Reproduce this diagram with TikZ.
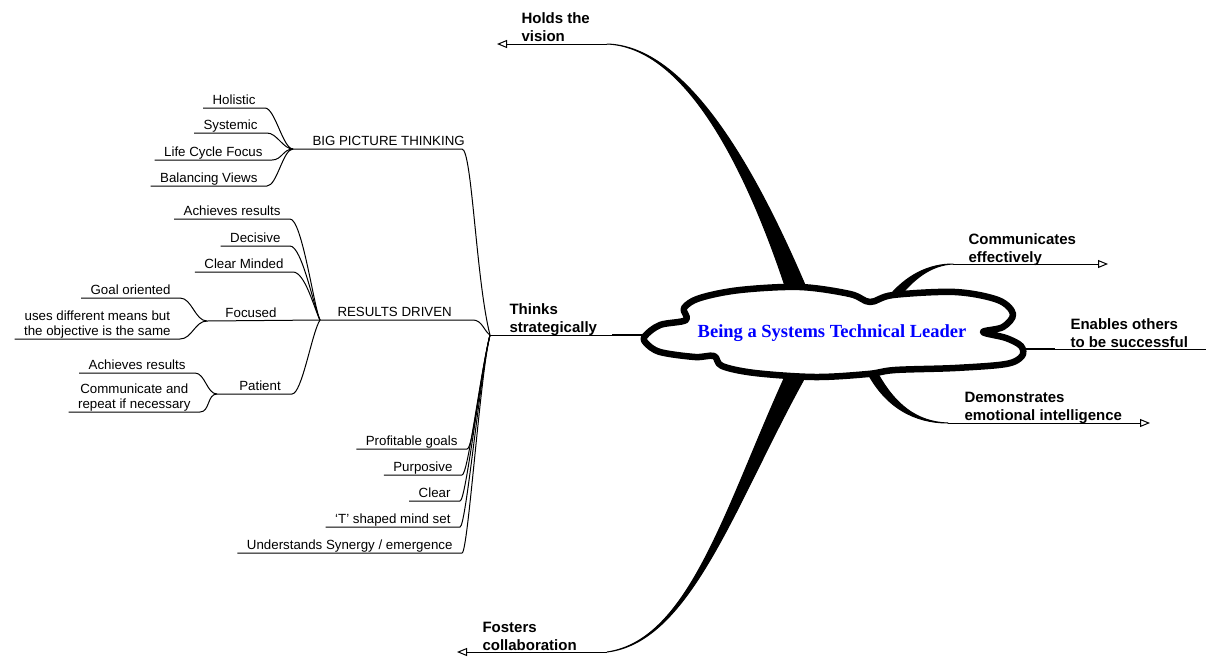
\documentclass[tikz,border=0pt]{standalone}
\usepackage{fontspec}
\setmainfont{Liberation Sans}
\newfontfamily\serifbold{Liberation Serif}
\usetikzlibrary{arrows.meta}
\definecolor{leaderblue}{RGB}{0,0,255}
\begin{document}
\begin{tikzpicture}[x=1pt,y=-1pt,line width=1pt,
  leaf/.style={font=\fontsize{13.3}{15}\selectfont, inner xsep=9pt, inner ysep=3pt, text depth=0pt, anchor=south east},
  leafc/.style={leaf, anchor=south, inner xsep=0pt},
  topic/.style={font=\bfseries\fontsize{15}{18}\selectfont, align=left, anchor=north west, inner sep=0pt},
  taper/.style={fill=black, draw=black, line width=1pt, line join=round},
  link/.style={line width=1pt},
  tip/.style={-{Triangle[open,length=10pt,width=8pt]}, line width=1pt},
  cloudline/.style={draw=black, fill=white, line width=6.5pt, line join=round},
]
\useasboundingbox (0,0) rectangle (1206,659);

% junction points
\coordinate (J) at (490,335);
\coordinate (bigJ) at (293,149);
\coordinate (bigR) at (462,149);
\coordinate (resJ) at (320,320);
\coordinate (resR) at (473,320);
\coordinate (focJ) at (207,321);
\coordinate (patJ) at (217,394);
\coordinate (patR) at (292,394);

% where branches meet the cloud
\coordinate (cW) at (645,335);
\coordinate (cE) at (1020,349);
\coordinate (thkW) at (612,335);
\coordinate (thkE) at (1055,349);

% ends of the main branches
\coordinate (visE) at (607,44);
\coordinate (visTip) at (497,44);
\coordinate (fosE) at (607,652);
\coordinate (fosTip) at (457,652);
\coordinate (comE) at (953,264);
\coordinate (comTip) at (1108,264);
\coordinate (demE) at (948,423);
\coordinate (demTip) at (1150,423);
\coordinate (enR) at (1206,349);

% tapering main branches
\filldraw[taper] (visE) .. controls (680,47) and (741,152) .. (787,292) -- (808,292) .. controls (748,150) and (681,46) .. (visE) -- cycle;
\filldraw[taper] (fosE) .. controls (690,640) and (726,505) .. (787,372) -- (808,372) .. controls (736,500) and (692,642) .. (fosE) -- cycle;
\filldraw[taper] (886,300) .. controls (906,274) and (930,264) .. (comE) .. controls (931,265) and (913,279) .. (897,300) -- cycle;
\filldraw[taper] (867,372) .. controls (886,408) and (915,423) .. (demE) .. controls (917,422) and (895,405) .. (877,372) -- cycle;

\draw[tip] (visE) -- (visTip);
\draw[tip] (fosE) -- (fosTip);
\draw[tip] (comE) -- (comTip);
\draw[tip] (demE) -- (demTip);
\draw[link] (cE) -- (enR);
\draw[line width=2pt] (cE) -- (thkE);
\draw[link] (J) -- (cW);
\draw[line width=1.8pt] (thkW) -- (cW);

% central cloud
\draw[cloudline] plot[smooth cycle, tension=0.55] coordinates {
  (645,336) (660,325) (686,320) (684,308) (700,298) (740,290) (800,287)
  (850,294) (870,302) (893,295) (955,292) (998,300) (1013,314) (1003,327)
  (983,332) (1006,338) (1021,346) (1022,356) (1006,364) (955,368) (895,370)
  (868,374) (815,377) (755,373) (722,366) (714,356) (695,357) (660,352) (646,343)};
\node[font=\serifbold\bfseries\fontsize{18.5}{20}\selectfont, text=leaderblue] (leader) at (832,333) {Being a Systems Technical Leader};

% main topics
\node[topic] (vision) at (521,12) {Holds the\\vision};
\node[topic] (comm) at (968,233) {Communicates\\effectively};
\node[topic] (enab) at (1070,318) {Enables others\\to be successful};
\node[topic] (demo) at (964,392) {Demonstrates\\emotional intelligence};
\node[topic] (think) at (509,303) {Thinks\\strategically};
\node[topic] (fost) at (482,622) {Fosters\\collaboration};

% sub-topics of thinking strategically
\node[leaf, anchor=south west, inner xsep=19pt] (big) at (bigJ) {BIG PICTURE THINKING};
\node[leaf, anchor=south west, inner xsep=17pt] (res) at (resJ) {RESULTS DRIVEN};
\draw[link] (bigJ) -- (bigR) .. controls +(10,0) and +(-14,-55) .. (J);
\draw[link] (resJ) -- (resR) .. controls +(9,0) and +(-6,-4) .. (J);

\node[leaf] (hol) at (265,108) {Holistic};
\node[leaf] (sys) at (267,133) {Systemic};
\node[leaf] (lcf) at (272,160) {Life Cycle Focus};
\node[leaf] (bal) at (267,186) {Balancing Views};
\foreach \n in {hol,sys,lcf,bal}
  \draw[link] (\n.south west) -- (\n.south east) .. controls +(10,0) and +(-10,0) .. (bigJ);

\node[leaf] (ach) at (290,219) {Achieves results};
\node[leaf] (dec) at (290,246) {Decisive};
\node[leaf] (clm) at (293,272) {Clear Minded};
\foreach \n in {ach,dec,clm}
  \draw[link] (\n.south west) -- (\n.south east) .. controls +(12,0) and +(-6,-12) .. (resJ);

\node[leafc] (foc) at (251,321) {Focused};
\draw[link] (focJ) -- (resJ);
\node[leafc] (pat) at (260,394) {Patient};
\draw[link] (patJ) -- (patR) .. controls +(10,0) and +(-8,12) .. (resJ);

\node[leaf] (goal) at (180,298) {Goal oriented};
\node[leaf, align=center] (means) at (180,339) {uses different means but\\the objective is the same};
\foreach \n in {goal,means}
  \draw[link] (\n.south west) -- (\n.south east) .. controls +(12,0) and +(-12,0) .. (focJ);

\node[leaf] (ach2) at (195,373) {Achieves results};
\node[leaf, align=center] (rep) at (200,412) {Communicate and\\repeat if necessary};
\foreach \n in {ach2,rep}
  \draw[link] (\n.south west) -- (\n.south east) .. controls +(10,0) and +(-10,0) .. (patJ);

\node[leaf] (prof) at (467,449) {Profitable goals};
\node[leaf] (purp) at (462,475) {Purposive};
\node[leaf] (clr) at (460,501) {Clear};
\node[leaf] (tsh) at (460,527) {‘T’ shaped mind set};
\node[leaf] (syn) at (462,553) {Understands Synergy / emergence};
\foreach \n in {prof,purp,clr,tsh,syn}
  \draw[link] (\n.south west) -- (\n.south east) .. controls +(6,0) and +(-10,40) .. (J);
\end{tikzpicture}
\end{document}
